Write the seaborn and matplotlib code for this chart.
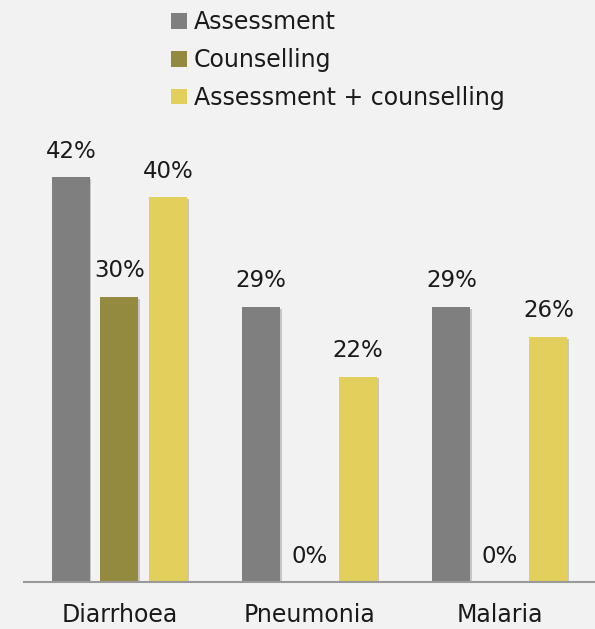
import matplotlib
matplotlib.use("Agg")
import matplotlib.pyplot as plt
import matplotlib.patheffects as pe
import seaborn as sns
import pandas as pd

categories = ["Diarrhoea", "Pneumonia", "Malaria"]
series = ["Assessment", "Counselling", "Assessment + counselling"]
assessment = [42, 29, 29]
counselling = [30, 0, 0]
assess_counsel = [40, 22, 26]
colors = ["#7f7f7f", "#938a40", "#e2cf5c"]

rows = []
for name, vals in zip(series, [assessment, counselling, assess_counsel]):
    for c, v in zip(categories, vals):
        rows.append({"cat": c, "series": name, "val": v})
df = pd.DataFrame(rows)

sns.set_style("white")
plt.rcParams["font.family"] = ["DejaVu Sans"]
bg = "#f2f2f2"
txt = "#1a1a1a"
fig = plt.figure(figsize=(5.95, 6.29), dpi=100, facecolor=bg)
ax = fig.add_axes([24.3 / 595, 46.7 / 629, 1 - 24.3 / 595, 435 / 629])
ax.set_facecolor(bg)

sns.barplot(data=df, x="cat", y="val", hue="series", hue_order=series,
            palette=colors, width=0.765, gap=0.22, ax=ax, saturation=1,
            edgecolor="none", linewidth=0, legend=True)

ymin, ymax = 1.4, 45
ax.set_ylim(ymin, ymax)
ax.set_xlim(-0.5, 2.5)

for cont in ax.containers:
    for rect, v in zip(cont.patches, cont.datavalues):
        rect.set_path_effects([pe.SimplePatchShadow(offset=(1.2, -1.2), alpha=0.18,
                                                    shadow_rgbFace="#000000"),
                               pe.Normal()])
        xc = rect.get_x() + rect.get_width() / 2
        ax.annotate(f"{int(v)}%", xy=(xc, max(v, ymin)), xytext=(0, 10.5),
                    textcoords="offset points", ha="center", va="bottom",
                    fontsize=16.5, color=txt, annotation_clip=False)

ax.set_xlabel("")
ax.set_ylabel("")
ax.set_yticks([])
ax.tick_params(axis="x", length=0, pad=15, labelsize=17, labelcolor=txt)
for s in ["top", "right", "left"]:
    ax.spines[s].set_visible(False)
ax.spines["bottom"].set_color("#9a9a9a")
ax.spines["bottom"].set_linewidth(1.5)

handles, labels = ax.get_legend_handles_labels()
ax.legend(handles, labels, loc="upper left", bbox_to_anchor=(162 / 595, 1.0 - 1 / 629),
          bbox_transform=fig.transFigure, frameon=False, fontsize=17,
          handlelength=0.64, handleheight=0.64, handletextpad=0.3,
          labelspacing=0.58, labelcolor=txt, borderaxespad=0.0)

fig.savefig("out.png", dpi=100, facecolor=bg)
